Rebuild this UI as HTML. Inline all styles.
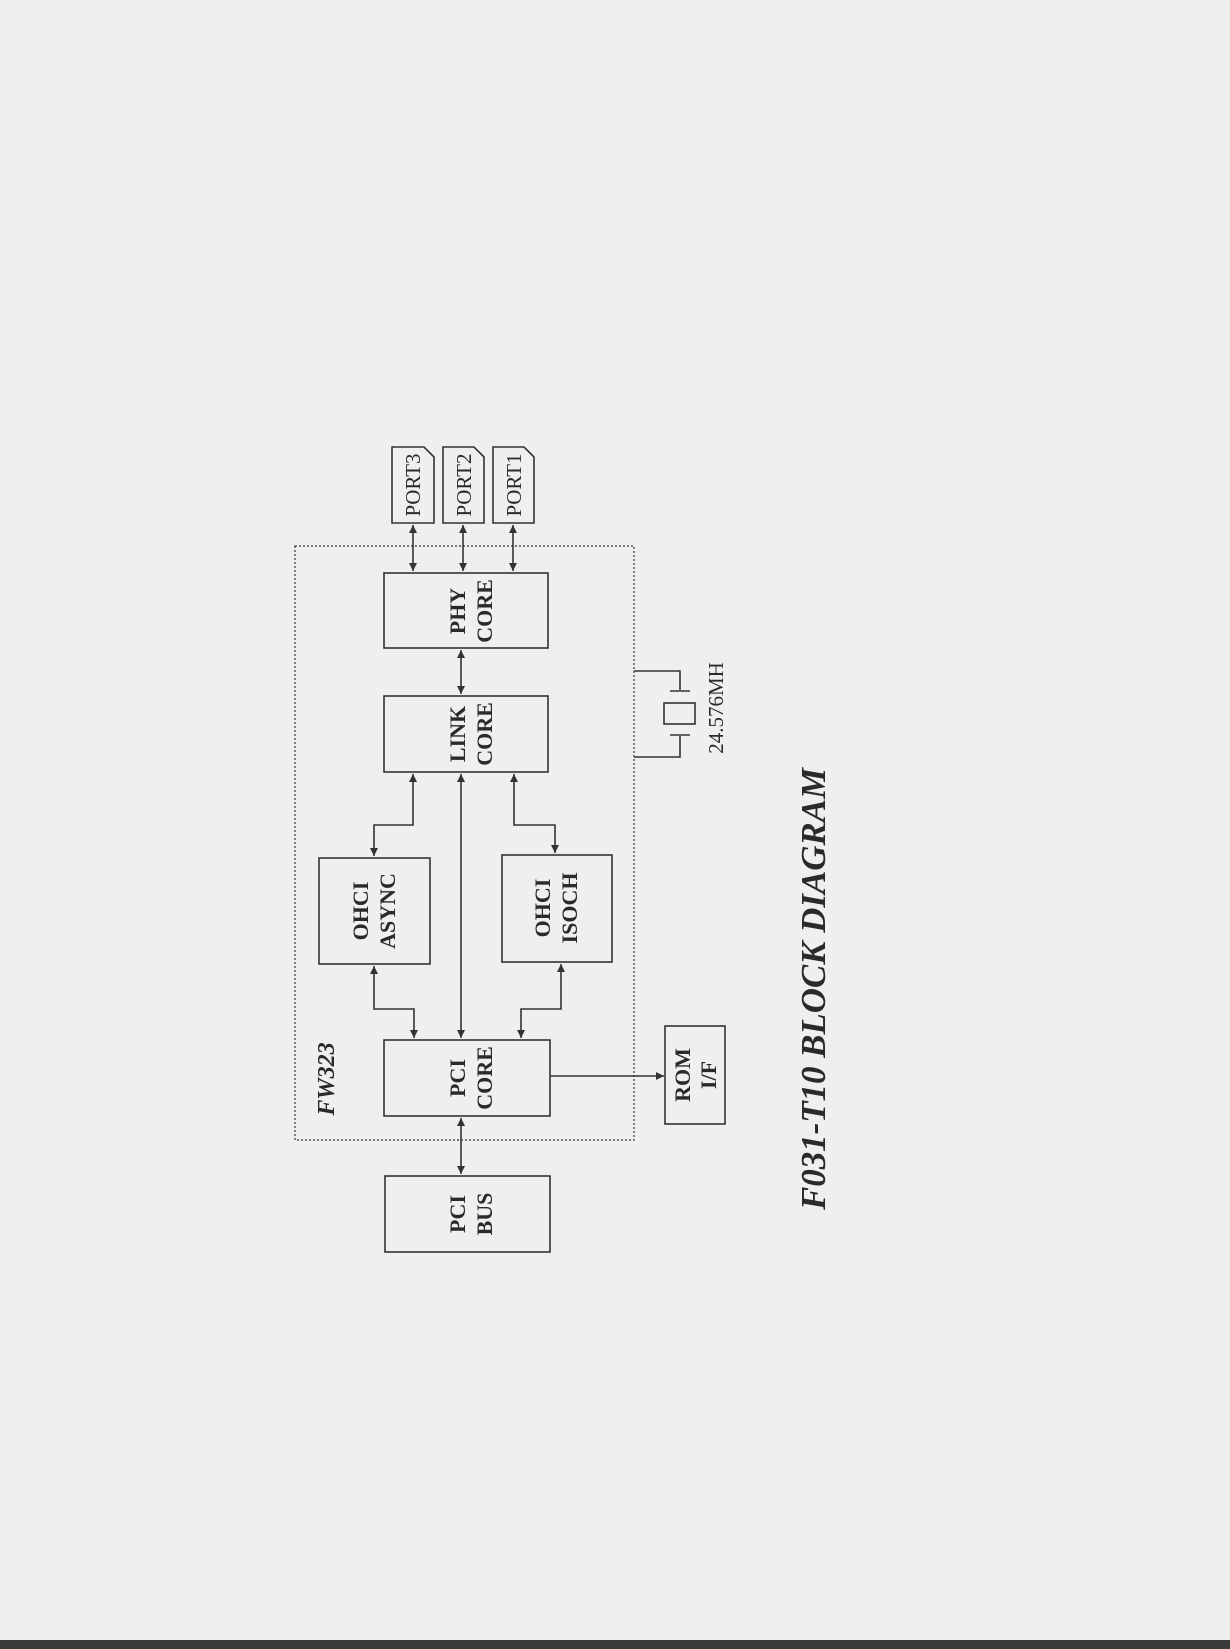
<!DOCTYPE html>
<html><head><meta charset="utf-8"><style>
html,body{margin:0;padding:0;background:#efefef;}
svg{display:block;}
text{font-family:"Liberation Serif",serif;fill:#2a2a2a;}
</style></head><body>
<svg width="1230" height="1649" viewBox="0 0 1230 1649" xmlns="http://www.w3.org/2000/svg">
<defs>
<marker id="a" viewBox="0 0 10 10" refX="10" refY="5" markerWidth="8" markerHeight="8" orient="auto-start-reverse" markerUnits="userSpaceOnUse">
<path d="M0,0 L10,5 L0,10 z" fill="#333"/></marker>
</defs>
<rect width="1230" height="1649" fill="#efefef"/>
<rect x="0" y="1640" width="1230" height="9" fill="#3a3a3a"/>
<g fill="none" stroke="#333" stroke-width="1.6">
<rect x="295" y="546" width="339" height="594" stroke-dasharray="2,2" stroke-width="1.2"/>
<polygon points="392,523 392,447 424,447 434,457 434,523"/>
<polygon points="443,523 443,447 474,447 484,457 484,523"/>
<polygon points="493,523 493,447 524,447 534,457 534,523"/>
<rect x="384" y="573" width="164" height="75"/>
<rect x="384" y="696" width="164" height="76"/>
<rect x="319" y="858" width="111" height="106"/>
<rect x="502" y="855" width="110" height="107"/>
<rect x="384" y="1040" width="166" height="76"/>
<rect x="385" y="1176" width="165" height="76"/>
<rect x="665" y="1026" width="60" height="98"/>
<line x1="413" y1="525" x2="413" y2="571" marker-start="url(#a)" marker-end="url(#a)"/>
<line x1="463" y1="525" x2="463" y2="571" marker-start="url(#a)" marker-end="url(#a)"/>
<line x1="513" y1="525" x2="513" y2="571" marker-start="url(#a)" marker-end="url(#a)"/>
<line x1="461" y1="650" x2="461" y2="694" marker-start="url(#a)" marker-end="url(#a)"/>
<polyline points="413,774 413,825 374,825 374,856" marker-start="url(#a)" marker-end="url(#a)"/>
<polyline points="514,774 514,825 555,825 555,853" marker-start="url(#a)" marker-end="url(#a)"/>
<line x1="461" y1="774" x2="461" y2="1038" marker-start="url(#a)" marker-end="url(#a)"/>
<polyline points="374,966 374,1009 414,1009 414,1038" marker-start="url(#a)" marker-end="url(#a)"/>
<polyline points="561,964 561,1009 521,1009 521,1038" marker-start="url(#a)" marker-end="url(#a)"/>
<line x1="461" y1="1118" x2="461" y2="1174" marker-start="url(#a)" marker-end="url(#a)"/>
<line x1="550" y1="1076" x2="664" y2="1076" marker-end="url(#a)"/>
<polyline points="634,671 680,671 680,690"/>
<line x1="670" y1="691" x2="690" y2="691"/>
<rect x="664" y="703" width="31" height="21"/>
<line x1="670" y1="735" x2="690" y2="735"/>
<polyline points="680,736 680,757 634,757"/>
</g>
<g font-size="21">
<text transform="translate(420,485) rotate(-90)" text-anchor="middle">PORT3</text>
<text transform="translate(471,485) rotate(-90)" text-anchor="middle">PORT2</text>
<text transform="translate(521,485) rotate(-90)" text-anchor="middle">PORT1</text>
<text transform="translate(723,708) rotate(-90)" text-anchor="middle">24.576MH</text>
</g>
<g font-size="22" font-weight="bold">
<text transform="translate(465,611) rotate(-90)" text-anchor="middle">PHY</text>
<text transform="translate(492,611) rotate(-90)" text-anchor="middle">CORE</text>
<text transform="translate(465,734) rotate(-90)" text-anchor="middle">LINK</text>
<text transform="translate(492,734) rotate(-90)" text-anchor="middle">CORE</text>
<text transform="translate(368,911) rotate(-90)" text-anchor="middle">OHCI</text>
<text transform="translate(395,911) rotate(-90)" text-anchor="middle">ASYNC</text>
<text transform="translate(550,908) rotate(-90)" text-anchor="middle">OHCI</text>
<text transform="translate(577,908) rotate(-90)" text-anchor="middle">ISOCH</text>
<text transform="translate(465,1078) rotate(-90)" text-anchor="middle">PCI</text>
<text transform="translate(492,1078) rotate(-90)" text-anchor="middle">CORE</text>
<text transform="translate(465,1214) rotate(-90)" text-anchor="middle">PCI</text>
<text transform="translate(492,1214) rotate(-90)" text-anchor="middle">BUS</text>
<text transform="translate(690,1075) rotate(-90)" text-anchor="middle">ROM</text>
<text transform="translate(716,1075) rotate(-90)" text-anchor="middle">I/F</text>
</g>
<text transform="translate(334,1079) rotate(-90)" text-anchor="middle" font-size="24" font-weight="bold" font-style="italic">FW323</text>
<text transform="translate(825,989) rotate(-90)" text-anchor="middle" font-size="35" font-weight="bold" font-style="italic" textLength="442" lengthAdjust="spacingAndGlyphs">F031-T10 BLOCK DIAGRAM</text>
</svg>
</body></html>
